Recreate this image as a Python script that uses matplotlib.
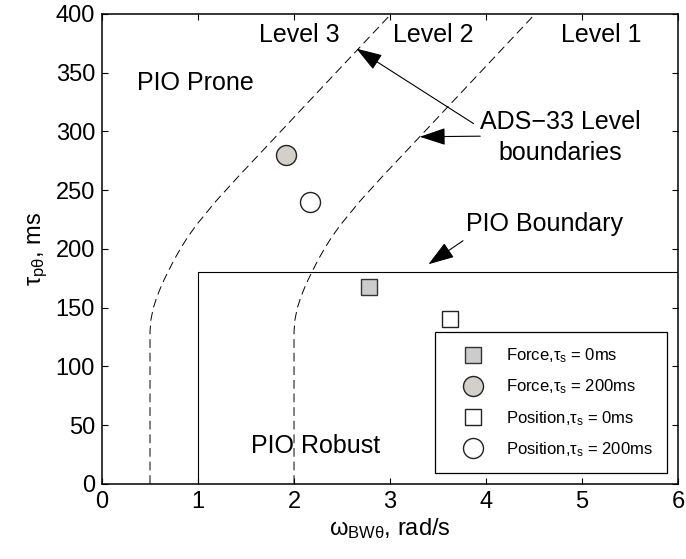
import matplotlib.pyplot as plt

plt.rcParams['font.family'] = ['Liberation Sans', 'DejaVu Sans']
plt.rcParams['mathtext.fontset'] = 'custom'
plt.rcParams['mathtext.rm'] = 'Liberation Sans'
plt.rcParams['mathtext.it'] = 'Liberation Sans'
plt.rcParams['mathtext.bf'] = 'Liberation Sans:bold'

# ADS-33 level boundaries (bandwidth rad/s vs phase delay ms)
tau_bound = [0, 130, 140, 150, 160, 170, 180, 190, 200, 210, 220, 240, 260, 300, 350, 400]
omega_l23 = [0.5, 0.5, 0.51, 0.535, 0.575, 0.625, 0.684, 0.746, 0.815, 0.892, 0.979, 1.179,
             1.401, 1.861, 2.436, 3.011]
omega_l12 = [2.0, 2.0, 2.01, 2.035, 2.075, 2.125, 2.184, 2.246, 2.315, 2.392, 2.479, 2.679,
             2.901, 3.361, 3.936, 4.511]

# PIO boundary
pio_omega = [1, 1, 6]
pio_tau = [0, 180, 180]

# test points
force_0_omega, force_0_tau = [2.78], [168]
force_200_omega, force_200_tau = [1.92], [280]
pos_0_omega, pos_0_tau = [3.62], [140]
pos_200_omega, pos_200_tau = [2.17], [240]

fig = plt.figure(figsize=(6.86, 5.59), dpi=100)
ax = fig.add_axes([0.1487, 0.1342, 0.8397, 0.8408])

dash = dict(color='k', lw=0.7, linestyle=(0, (9, 5)))
ax.plot(omega_l23, tau_bound, **dash)
ax.plot(omega_l12, tau_bound, **dash)
ax.plot(pio_omega, pio_tau, color='k', lw=0.8)

ax.plot(force_0_omega, force_0_tau, 's', ms=11.5, mfc='#cccccc', mec='#333333', mew=1.0,
        label=r'Force,$\tau_s$ = 0ms')
ax.plot(force_200_omega, force_200_tau, 'o', ms=14.4, mfc='#d4d0c8', mec='#222222', mew=1.0,
        label=r'Force,$\tau_s$ = 200ms')
ax.plot(pos_0_omega, pos_0_tau, 's', ms=11.5, mfc='white', mec='#222222', mew=1.0,
        label=r'Position,$\tau_s$ = 0ms')
ax.plot(pos_200_omega, pos_200_tau, 'o', ms=14.4, mfc='white', mec='#222222', mew=1.0,
        label=r'Position,$\tau_s$ = 200ms')

ax.set_xlim(0, 6)
ax.set_ylim(0, 400)
ax.set_xticks(range(0, 7))
ax.set_yticks(range(0, 401, 50))
ax.tick_params(direction='in', top=True, right=True, length=4, width=0.8, labelsize=17, pad=5)
for s in ax.spines.values():
    s.set_linewidth(1.1)

ax.set_xlabel(r'$\omega_{BW\theta}$, rad/s', fontsize=17, labelpad=2)
ax.set_ylabel(r'$\tau_{p\theta}$, ms', fontsize=17, labelpad=4)

# region labels
fs = 18
ax.text(2.05, 382, 'Level 3', fontsize=fs, ha='center', va='center')
ax.text(3.45, 382, 'Level 2', fontsize=fs, ha='center', va='center')
ax.text(5.2, 382, 'Level 1', fontsize=fs, ha='center', va='center')
ax.text(0.97, 341, 'PIO Prone', fontsize=fs, ha='center', va='center')
ax.text(2.22, 32, 'PIO Robust', fontsize=fs, ha='center', va='center')
ax.text(4.77, 295, 'ADS\u221233 Level\nboundaries', fontsize=fs, ha='center', va='center',
        multialignment='center', linespacing=1.35)
ax.text(4.61, 221, 'PIO Boundary', fontsize=fs, ha='center', va='center')

arrow = dict(arrowstyle='-|>,head_length=0.9,head_width=0.3', color='k', lw=0.8,
             shrinkA=0, shrinkB=0, mutation_scale=18)
ax.annotate('', xy=(2.65, 370.5), xytext=(3.87, 306.7), arrowprops=arrow)
ax.annotate('', xy=(3.31, 295.5), xytext=(3.94, 296), arrowprops=arrow)
ax.annotate('', xy=(3.40, 187), xytext=(3.76, 207), arrowprops=arrow)

leg = ax.legend(loc='lower right', bbox_to_anchor=(0.981, 0.0234), fontsize=12,
                frameon=True, fancybox=False, edgecolor='k', framealpha=1,
                borderpad=0.85, labelspacing=0.75, handletextpad=0.55, handlelength=2.9,
                borderaxespad=0, numpoints=1)
leg.get_frame().set_linewidth(0.9)

fig.savefig('out.png', dpi=100)
